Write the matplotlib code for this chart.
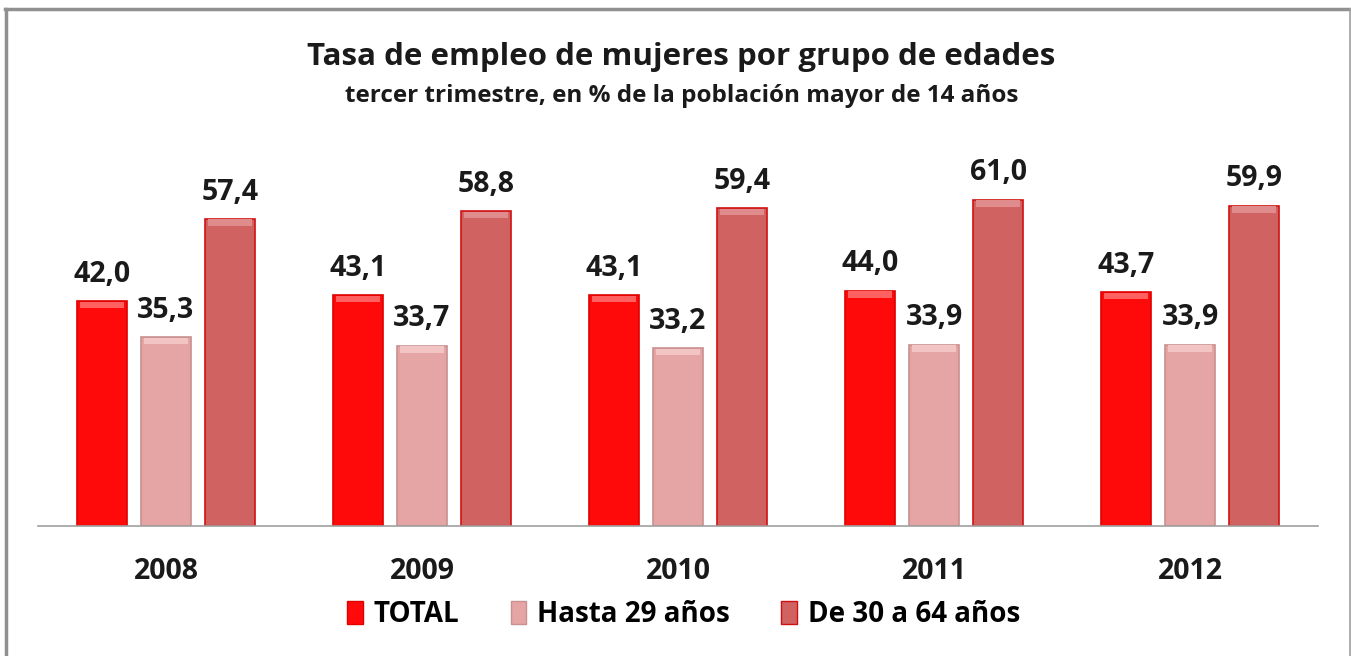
import numpy as np
import matplotlib.pyplot as plt
from matplotlib.lines import Line2D
from matplotlib.patches import Patch

years = ['2008', '2009', '2010', '2011', '2012']
total = [42.0, 43.1, 43.1, 44.0, 43.7]
hasta29 = [35.3, 33.7, 33.2, 33.9, 33.9]
de30a64 = [57.4, 58.8, 59.4, 61.0, 59.9]
series_names = ['TOTAL', 'Hasta 29 años', 'De 30 a 64 años']

plt.rcParams['font.family'] = ['Open Sans', 'DejaVu Sans']

colors = ['#FF0A0A', '#E6A5A5', '#D06262']
edges = ['#E00000', '#C89090', '#D01010']
tops = ['#FF6060', '#F2C4C4', '#E08C8C']

fig = plt.figure(figsize=(13.51, 6.56), dpi=100)
ax = fig.add_axes([0.0281, 0.198, 0.9475, 0.571])

x = np.arange(len(years))
w = 0.195
offs = [-0.25, 0, 0.25]
for vals, off, c, ec, tc in zip([total, hasta29, de30a64], offs, colors, edges, tops):
    ax.bar(x + off, vals, width=w, color=c, edgecolor=ec, linewidth=1.2, zorder=2)
    # bevel highlight at the top of each bar
    ax.bar(x + off, [1.2] * len(vals), bottom=np.array(vals) - 1.3, width=w * 0.88,
           color=tc, linewidth=0, zorder=3)
    for xi, v in zip(x + off, vals):
        ax.text(xi, v + 2.3, f'{v:.1f}'.replace('.', ','), ha='center', va='bottom',
                fontsize=20.5, fontweight='bold', color='#1a1a1a')

ax.set_xlim(-0.5, 4.5)
ax.set_ylim(0, 70)
ax.set_yticks([])
for s in ['top', 'right', 'left']:
    ax.spines[s].set_visible(False)
ax.spines['bottom'].set_color('#A0A0A0')
ax.spines['bottom'].set_linewidth(1.2)
ax.set_xticks(x)
ax.set_xticklabels(years, fontsize=20.5, fontweight='bold', color='#1a1a1a')
ax.tick_params(axis='x', length=0, pad=22)

fig.text(0.5045, 0.913, 'Tasa de empleo de mujeres por grupo de edades', ha='center',
         va='center', fontsize=22.5, fontweight='bold', color='#1a1a1a')
fig.text(0.5045, 0.853, 'tercer trimestre, en % de la población mayor de 14 años', ha='center',
         va='center', fontsize=17.5, fontweight='bold', color='#1a1a1a')

handles = [Patch(facecolor=c, edgecolor=ec) for c, ec in zip(colors, edges)]
fig.legend(handles, series_names, loc='center', bbox_to_anchor=(0.506, 0.063), ncol=3,
           frameon=False, prop={'size': 20, 'weight': 'bold'}, handlelength=0.55,
           handleheight=0.9, handletextpad=0.4, columnspacing=1.85)

# outer frame
fig.add_artist(Line2D([0.0048, 0.0048], [0.0, 0.9865], transform=fig.transFigure,
                      color='#909090', lw=2.5))
fig.add_artist(Line2D([0.0037, 0.9990], [0.9865, 0.9865], transform=fig.transFigure,
                      color='#909090', lw=2.5))
fig.add_artist(Line2D([0.9990, 0.9990], [0.0, 0.9865], transform=fig.transFigure,
                      color='#A0A0A0', lw=1.2))

fig.savefig('out.png', dpi=100)
